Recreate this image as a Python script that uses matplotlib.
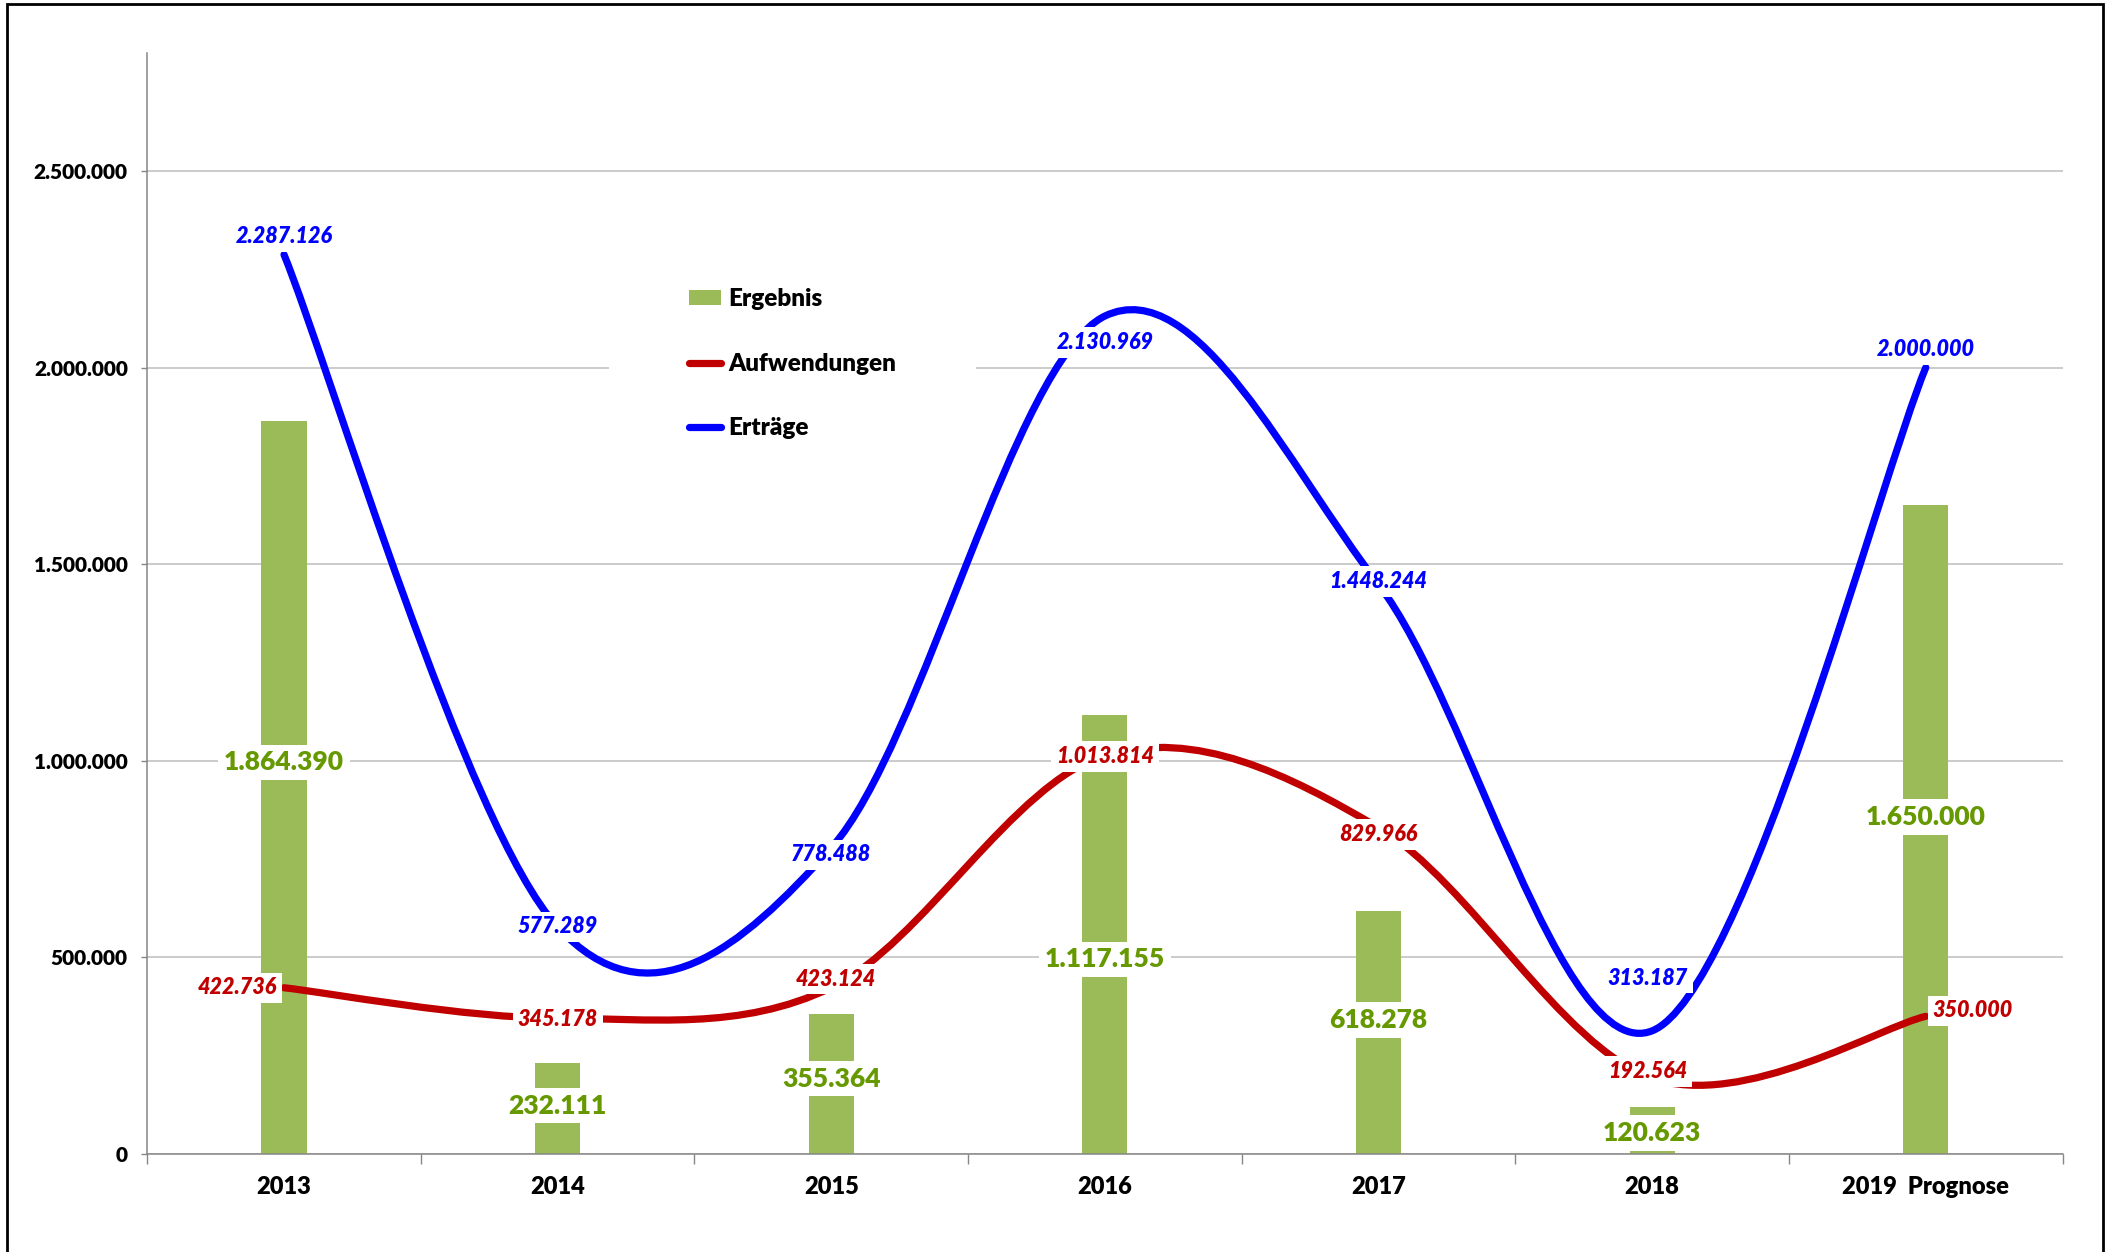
import numpy as np
import matplotlib.pyplot as plt
from matplotlib.path import Path
from matplotlib.patches import PathPatch, Patch, Rectangle
from matplotlib.lines import Line2D
from matplotlib.ticker import FuncFormatter

plt.rcParams['font.family'] = ['Lato', 'DejaVu Sans']

# Data
years = ['2013', '2014', '2015', '2016', '2017', '2018', '2019  Prognose']
ergebnis = [1864390, 232111, 355364, 1117155, 618278, 120623, 1650000]
aufwendungen = [422736, 345178, 423124, 1013814, 829966, 192564, 350000]
ertraege = [2287126, 577289, 778488, 2130969, 1448244, 313187, 2000000]

GREEN = '#9BBB59'
GREEN_TXT = '#669900'
RED = '#C00000'
BLUE = '#0000FF'
W = 800  # text weight


def de_fmt(v):
    return f"{int(round(v)):,}".replace(',', '.')


def smooth_path(xs, ys):
    # Excel-like smoothed line: cubic Bezier segments (Catmull-Rom control points)
    n = len(xs)
    verts = [(xs[0], ys[0])]
    codes = [Path.MOVETO]
    for i in range(n - 1):
        i0 = max(i - 1, 0)
        i3 = min(i + 2, n - 1)
        c1 = (xs[i] + (xs[i + 1] - xs[i0]) / 6, ys[i] + (ys[i + 1] - ys[i0]) / 6)
        c2 = (xs[i + 1] - (xs[i3] - xs[i]) / 6, ys[i + 1] - (ys[i3] - ys[i]) / 6)
        verts += [c1, c2, (xs[i + 1], ys[i + 1])]
        codes += [Path.CURVE4] * 3
    return Path(verts, codes)


fig = plt.figure(figsize=(21.09, 12.52), dpi=100)
ax = fig.add_axes([0.0698, 0.0783, 0.978 - 0.0698, 0.9577 - 0.0783])

x = np.arange(len(years))

# bars
ax.bar(x, ergebnis, width=0.165, color=GREEN, zorder=2)

# smoothed lines
ax.add_patch(PathPatch(smooth_path(x, aufwendungen), fill=False, edgecolor=RED,
                       lw=5.2, capstyle='round', joinstyle='round', zorder=3))
ax.add_patch(PathPatch(smooth_path(x, ertraege), fill=False, edgecolor=BLUE,
                       lw=5.2, capstyle='round', joinstyle='round', zorder=4))

box = dict(boxstyle='square,pad=0.22', facecolor='white', edgecolor='none')

# bar labels
bar_off = [(0, 18), (0, 2), (0, 4), (0, -18), (0, 9), (0, -2), (0, 9)]
for xi, v, off in zip(x, ergebnis, bar_off):
    ax.annotate(de_fmt(v), (xi, v / 2), xytext=off, textcoords='offset points',
                ha='center', va='center', fontsize=19, fontweight=W,
                color=GREEN_TXT, bbox=box, zorder=6)

# Aufwendungen labels
auf_off = [(-5, 0), (0, -1), (3, 6), (0, -1), (0, -5), (-3, 5), (5, 4)]
auf_ha = ['right', 'center', 'center', 'center', 'center', 'center', 'left']
for xi, v, off, ha in zip(x, aufwendungen, auf_off, auf_ha):
    ax.annotate(de_fmt(v), (xi, v), xytext=off, textcoords='offset points',
                ha=ha, va='center', fontsize=15.5, fontweight=W, style='italic',
                color=RED, bbox=box, zorder=7)

# Erträge labels
ert_off = [(0, 13), (0, 0), (0, -5), (0, -19), (0, 2), (-3, 38), (0, 13)]
for xi, v, off in zip(x, ertraege, ert_off):
    ax.annotate(de_fmt(v), (xi, v), xytext=off, textcoords='offset points',
                ha='center', va='center', fontsize=15.5, fontweight=W, style='italic',
                color=BLUE, bbox=box, zorder=7)

# axes styling
ax.set_xlim(-0.5, len(years) - 0.5)
ax.set_ylim(0, 2800000)
ax.set_yticks(np.arange(0, 2500001, 500000))
ax.yaxis.set_major_formatter(FuncFormatter(lambda v, p: de_fmt(v)))
ax.yaxis.grid(True, color='#BDBDBD', lw=1.1)
ax.set_axisbelow(True)

ax.set_xticks(np.arange(-0.5, len(years), 1))
ax.set_xticklabels([])
ax.set_xticks(x, minor=True)
ax.set_xticklabels(years, minor=True)
ax.tick_params(axis='x', which='major', length=7, width=1, color='#868686', direction='out')
ax.tick_params(axis='x', which='minor', length=0, pad=16, labelsize=17)
ax.tick_params(axis='y', length=4, width=1, color='#868686', pad=10, labelsize=15)
for lab in ax.get_xticklabels(minor=True) + ax.get_yticklabels():
    lab.set_fontweight(W)

for s in ['top', 'right']:
    ax.spines[s].set_visible(False)
for s in ['left', 'bottom']:
    ax.spines[s].set_color('#868686')
    ax.spines[s].set_linewidth(1.1)

# legend
handles = [Patch(facecolor=GREEN, edgecolor='none'),
           Line2D([0], [0], color=RED, lw=5.2, solid_capstyle='round'),
           Line2D([0], [0], color=BLUE, lw=5.2, solid_capstyle='round')]
leg = ax.legend(handles, ['Ergebnis', 'Aufwendungen', 'Erträge'],
                loc='center', bbox_to_anchor=(0.337, 0.7176),
                prop={'weight': W, 'size': 17.5}, frameon=True,
                facecolor='white', edgecolor='none', framealpha=1, fancybox=False,
                handlelength=1.3, handleheight=0.55, handletextpad=0.3,
                labelspacing=1.75, borderpad=3.3)
leg.set_zorder(8)

# outer frame
fig.patches.append(Rectangle((0.0032, -0.05), 0.9940, 1.0465, transform=fig.transFigure,
                             fill=False, edgecolor='black', lw=2, zorder=10))

fig.savefig('out.png', dpi=100)
